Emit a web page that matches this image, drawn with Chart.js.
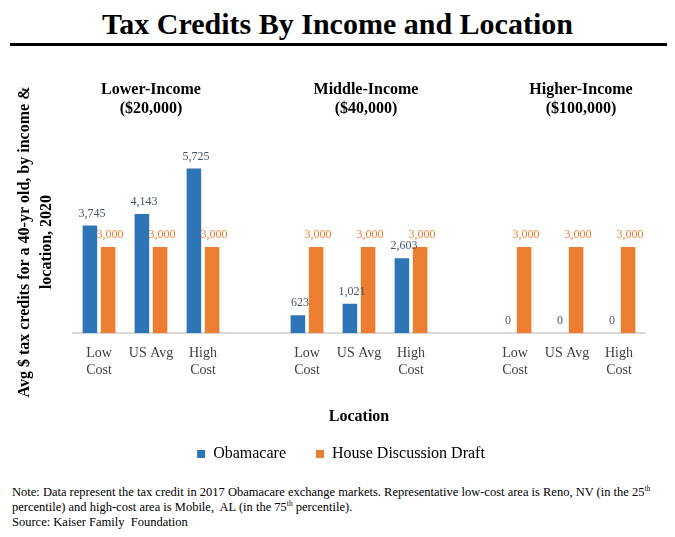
<!DOCTYPE html>
<html>
<head>
<meta charset="utf-8">
<script src="https://cdn.jsdelivr.net/npm/chart.js@4"></script>
<style>
  body { margin: 0; background: #fff; width: 675px; height: 537px; position: relative; overflow: hidden; font-family: "Liberation Serif", "Times New Roman", serif; }
  #title { position: absolute; top: 7px; left: 0; width: 675px; text-align: center; font-size: 30px; font-weight: bold; color: #000; }
  #rule { position: absolute; top: 43px; left: 10px; width: 657px; height: 3px; background: #000; }
  #wrap { position: absolute; top: 50px; left: 0; width: 675px; height: 422px; }
  #note { position: absolute; top: 485px; left: 12px; width: 660px; font-size: 12.5px; line-height: 15px; color: #000; }
  #note sup { font-size: 7.5px; line-height: 0; }
</style>
</head>
<body>
<div id="title">Tax Credits By Income and Location</div>
<div id="rule"></div>
<div id="wrap"><canvas id="myChart"></canvas></div>
<div id="note">Note: Data represent the tax credit in 2017 Obamacare exchange markets. Representative low-cost area is Reno, NV (in the 25<sup>th</sup><br>percentile) and high-cost area is Mobile,&nbsp; AL (in the 75<sup>th</sup> percentile).<br>Source: Kaiser Family&nbsp; Foundation</div>
<script>
// categories, with an empty slot between the income groups
const locations = [["Low", "Cost"], "US Avg", ["High", "Cost"], "",
                   ["Low", "Cost"], "US Avg", ["High", "Cost"], "",
                   ["Low", "Cost"], "US Avg", ["High", "Cost"]];
const obamacare = [3745, 4143, 5725, null, 623, 1021, 2603, null, 0, 0, 0];
const houseDraft = [3000, 3000, 3000, null, 3000, 3000, 3000, null, 3000, 3000, 3000];

const groupNames = ["Lower-Income", "Middle-Income", "Higher-Income"];
const groupIncome = ["($20,000)", "($40,000)", "($100,000)"];
const groupIndex = [1, 5, 9];

const blue = "#2E75B6";
const orange = "#ED7D31";
const serif = '"Liberation Serif", "Times New Roman", serif';

// value labels above each bar
const barLabels = {
    id: 'barLabels',
    afterDatasetsDraw(chart) {
        const ctx = chart.ctx;
        ctx.save();
        ctx.font = '12px ' + serif;
        ctx.textAlign = 'center';
        ctx.textBaseline = 'bottom';
        chart.data.datasets.forEach((ds, i) => {
            const meta = chart.getDatasetMeta(i);
            ctx.fillStyle = i === 0 ? '#44546A' : orange;
            meta.data.forEach((bar, j) => {
                const v = ds.data[j];
                if (v === null) return;
                ctx.fillText(v.toLocaleString('en-US'), bar.x + 2, bar.y - 6);
            });
        });
        ctx.restore();
    }
};

// group headings + y axis title
const extraText = {
    id: 'extraText',
    beforeDraw(chart) {
        // legend sits centred on the page, not on the plot area
        const lg = chart.legend;
        if (lg && !lg._shifted) {
            lg.left -= 18;
            lg.right -= 18;
            lg._shifted = true;
        }
    },
    afterDraw(chart) {
        const ctx = chart.ctx;
        const x = chart.scales.x;
        ctx.save();
        ctx.fillStyle = '#000';
        ctx.font = 'bold 16px ' + serif;
        ctx.textAlign = 'center';
        ctx.textBaseline = 'middle';
        groupIndex.forEach((idx, g) => {
            const cx = x.getPixelForValue(idx) + g * 7;
            ctx.fillText(groupNames[g], cx, 40);
            ctx.fillText(groupIncome[g], cx, 59);
        });

        ctx.translate(0, 192);
        ctx.rotate(-Math.PI / 2);
        ctx.fillText('Avg $ tax credits for a 40-yr old, by income &', 0, 25);
        ctx.fillText('location, 2020', 0, 47);
        ctx.restore();
    }
};

const ctx = document.getElementById('myChart').getContext('2d');
Chart.defaults.font.family = serif;

const data = {
    labels: locations,
    datasets: [{
        label: 'Obamacare',
        data: obamacare,
        backgroundColor: blue,
        categoryPercentage: 0.7,
        barPercentage: 0.8
    }, {
        label: 'House Discussion Draft',
        data: houseDraft,
        backgroundColor: orange,
        categoryPercentage: 0.7,
        barPercentage: 0.8
    }]
};

const options = {
    responsive: true,
    maintainAspectRatio: false,
    animation: false,
    layout: {
        padding: { left: 73, right: 30, top: 53, bottom: 0 }
    },
    plugins: {
        legend: {
            position: 'bottom',
            labels: {
                boxWidth: 8,
                boxHeight: 8,
                padding: 30,
                color: '#000',
                font: { size: 16, family: serif }
            }
        },
        tooltip: { enabled: false }
    },
    scales: {
        x: {
            grid: { display: false },
            border: { display: true, color: '#d9d9d9', width: 2 },
            ticks: {
                color: '#404040',
                font: { size: 14, family: serif },
                padding: 4,
                maxRotation: 0,
                autoSkip: false
            },
            title: {
                display: true,
                text: 'Location',
                color: '#000',
                font: { size: 16, weight: 'bold', family: serif },
                padding: { top: 24, bottom: -10 }
            }
        },
        y: {
            display: false,
            beginAtZero: true,
            min: 0,
            max: 8000
        }
    }
};

let config = {
    type: 'bar',
    data: data,
    options: options,
    plugins: [barLabels, extraText]
};

let graph = new Chart(ctx, config);
</script>
</body>
</html>
